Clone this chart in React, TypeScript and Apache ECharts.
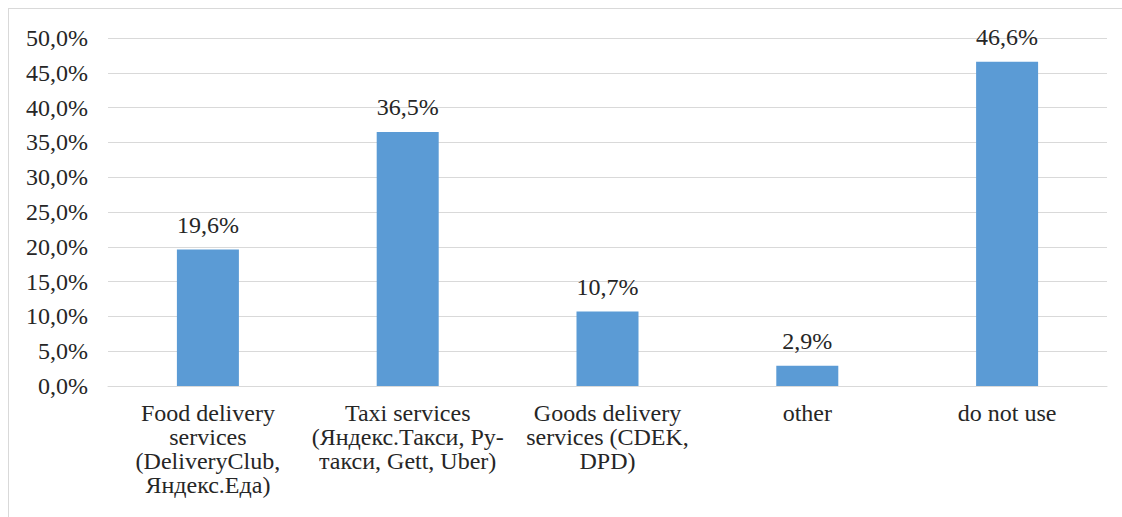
import React, { useEffect, useRef } from "react";
import * as echarts from "echarts";

const categories: string[] = [
  "Food delivery\nservices\n(DeliveryClub,\nЯндекс.Еда)",
  "Taxi services\n(Яндекс.Такси, Ру-\nтакси, Gett, Uber)",
  "Goods delivery\nservices (CDEK,\nDPD)",
  "other",
  "do not use",
];
const values: number[] = [19.6, 36.5, 10.7, 2.9, 46.6];
const yMin = 0;
const yMax = 50;
const yStep = 5;

const fmt = (v: number) => v.toFixed(1).replace(".", ",") + "%";
const FONT = "Times New Roman, Liberation Serif, serif";
const TEXT = "#262626";

export default function App() {
  const ref = useRef<HTMLDivElement>(null);
  useEffect(() => {
    if (!ref.current) return;
    const chart = echarts.init(ref.current, null, { renderer: "svg" });
    chart.setOption({
      animation: false,
      textStyle: { fontFamily: FONT },
      grid: { left: 99, top: 29, right: 22, bottom: 143, containLabel: false },
      xAxis: {
        type: "category",
        data: categories,
        axisLine: { show: true, lineStyle: { color: "#d9d9d9", width: 1 } },
        axisTick: { show: false },
        axisLabel: {
          interval: 0,
          margin: 15,
          color: TEXT,
          fontFamily: FONT,
          fontSize: 24,
          lineHeight: 24,
          align: "center",
        },
      },
      yAxis: {
        type: "value",
        min: yMin,
        max: yMax,
        interval: yStep,
        axisLine: { show: false },
        axisTick: { show: false },
        splitLine: { show: true, lineStyle: { color: "#d9d9d9", width: 1 } },
        axisLabel: {
          margin: 20,
          color: TEXT,
          fontFamily: FONT,
          fontSize: 24,
          lineHeight: 24,
          formatter: (v: number) => fmt(v),
        },
      },
      series: [
        {
          type: "bar",
          data: values,
          barWidth: 62,
          itemStyle: { color: "#5b9bd5" },
          label: {
            show: true,
            position: "top",
            distance: 13,
            color: TEXT,
            fontFamily: FONT,
            fontSize: 24,
            lineHeight: 24,
            formatter: (p: any) => fmt(p.value),
          },
        },
      ],
    });
    return () => chart.dispose();
  }, []);

  return (
    <div
      style={{
        position: "fixed",
        left: 0,
        top: 0,
        width: 1122,
        height: 517,
        overflow: "hidden",
        background: "#fff",
      }}
    >
      <div
        style={{
          position: "absolute",
          left: 8,
          top: 8,
          width: 1120,
          height: 520,
          border: "1px solid #d9d9d9",
          background: "#fff",
        }}
      >
        <div ref={ref} style={{ width: 1120, height: 520 }} />
      </div>
    </div>
  );
}
